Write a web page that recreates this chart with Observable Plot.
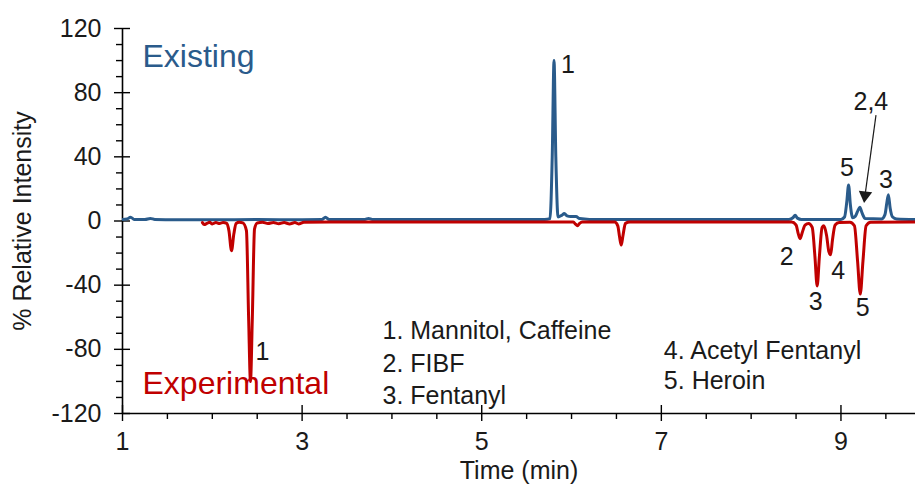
<!DOCTYPE html>
<html><head><meta charset="utf-8">
<script src="https://cdn.jsdelivr.net/npm/d3@7"></script>
<script src="https://cdn.jsdelivr.net/npm/@observablehq/plot@0.6"></script>
<style>body{margin:0;background:#fff} #chart svg{display:block}</style>
</head><body><div id="chart"></div>
<script>
// ---- data ----
const existingTime = [1.00,1.05,1.09,1.13,1.25,1.31,1.36,1.6,2.0,2.5,3.0,3.22,3.26,3.30,3.70,3.74,3.78,4.45,5.0,5.70,5.76,5.785,5.805,5.825,5.85,5.89,5.92,5.95,5.99,6.05,6.09,6.2,7.0,8.0,8.42,8.465,8.49,8.515,8.56,9.0,9.04,9.065,9.085,9.105,9.13,9.16,9.185,9.21,9.235,9.27,9.45,9.49,9.51,9.528,9.548,9.575,9.62,9.83];
const existingIntensity = [1.0,1.2,2.4,1.0,0.9,1.6,1.0,0.8,0.8,0.9,0.8,0.9,2.3,0.9,1.0,1.6,1.0,1.0,0.9,1.0,1.5,40,100,40,2.5,3.5,4.6,3.2,2.8,2.8,1.5,1.0,1.0,0.9,1.0,2.0,3.6,1.8,1.0,1.0,2.5,12,22.5,10,2.0,3,6,8.6,5,1.5,1.2,4,11,16.4,8,2.5,1.3,1.0];

const experimentalTime = [1.89,1.91,1.94,1.97,2.00,2.04,2.08,2.12,2.16,2.185,2.214,2.24,2.265,2.30,2.34,2.38,2.405,2.425,2.445,2.47,2.50,2.56,2.62,2.68,2.74,2.80,2.86,2.92,2.96,3.02,3.5,4.5,5.5,6.02,6.045,6.066,6.09,6.12,6.48,6.515,6.535,6.553,6.573,6.60,6.65,8.45,8.50,8.525,8.545,8.57,8.60,8.64,8.68,8.71,8.735,8.76,8.79,8.81,8.84,8.865,8.885,8.905,8.935,8.98,9.10,9.15,9.185,9.215,9.245,9.28,9.33,9.83];
const experimentalIntensity = [-1.0,-2.2,-1.5,-0.8,-1.8,-1.0,-1.6,-0.9,-1.5,-6,-18.5,-8,-1.5,-0.8,-1.2,-6,-62,-100,-62,-5,-1.2,-0.8,-1.6,-0.9,-1.7,-1.0,-1.8,-1.0,-1.8,-0.8,-0.6,-0.6,-0.6,-0.7,-2.0,-3.0,-1.5,-0.7,-0.7,-3,-10,-15,-9,-1.5,-0.7,-0.7,-2.5,-8,-11,-7,-2.5,-1.5,-4,-22,-40.5,-22,-4,-3,-9,-19,-21,-12,-2.5,-1,-0.8,-3,-25,-45.5,-25,-3,-0.8,-0.6];

const xDomain = [1, 9.83];
const yDomain = [-120, 120];
const xMajorTicks = [1, 3, 5, 7, 9];
const xMinorTicks = [1.5, 2, 2.5, 3.5, 4, 4.5, 5.5, 6, 6.5, 7.5, 8, 8.5, 9.5];
const yMajorTicks = [-120, -80, -40, 0, 40, 80, 120];
const yMinorTicks = [-110, -100, -90, -70, -60, -50, -30, -20, -10, 10, 20, 30, 50, 60, 70, 90, 100, 110];

const peakLabelText = ["1", "5", "3", "2,4", "1", "2", "3", "4", "5"];
const peakLabelTime = [5.959, 9.066, 9.500, 9.333, 2.559, 8.397, 8.720, 8.969, 9.241];
const peakLabelIntensity = [97.1, 33.2, 25.3, 74.2, -81.9, -22.6, -50.3, -31.3, -54.0];

const arrowStart = {time: 9.39, intensity: 66};
const arrowEnd = {time: 9.268, intensity: 16};

const compoundText = ["1. Mannitol, Caffeine", "2. FIBF", "3. Fentanyl", "4. Acetyl Fentanyl", "5. Heroin"];
const compoundTime = [3.895, 3.895, 3.895, 7.028, 7.028];
const compoundIntensity = [-68.4, -89.0, -109.0, -80.9, -99.6];

const seriesNames = ["Existing", "Experimental"];
const seriesLabelTime = [1.223, 1.223];
const seriesLabelIntensity = [102.7, -101.5];

// ---- styles ----
const BLUE = "#2a5b8b";
const RED = "#c00000";
const INK = "#1a1a1a";
const FONT = "'Liberation Sans', Arial, sans-serif";
const FS = 25;

const idx = (a) => a.map((_, i) => i);

const chart = Plot.plot({
  width: 915,
  height: 496,
  marginLeft: 122,
  marginRight: 0,
  marginTop: 28,
  marginBottom: 83,
  style: {fontFamily: FONT, background: "#fff", color: INK, overflow: "visible"},
  x: {domain: xDomain},
  y: {domain: yDomain},
  color: {domain: seriesNames, range: [BLUE, RED]},
  marks: [
    // axis lines
    Plot.ruleX([xDomain[0]], {stroke: "#000", strokeWidth: 1.6}),
    Plot.ruleY([yDomain[0]], {stroke: "#000", strokeWidth: 1.6}),
    // y ticks (major crossing, minor outside)
    Plot.axisY(yMajorTicks, {tickSize: 16, dx: 8, tickFormat: () => "", label: null, stroke: "#000", strokeWidth: 1.4}),
    Plot.axisY(yMinorTicks, {tickSize: 6, tickFormat: () => "", label: null, stroke: "#000", strokeWidth: 1.4}),
    Plot.axisY(yMajorTicks, {tickSize: 0, tickPadding: 21, label: null, fontSize: FS, fill: INK, tickFormat: d => String(d)}),
    // x ticks
    Plot.axisX(xMajorTicks, {tickSize: 16, dy: -8, tickFormat: () => "", label: null, stroke: "#000", strokeWidth: 1.4}),
    Plot.axisX(xMinorTicks, {tickSize: 6, tickFormat: () => "", label: null, stroke: "#000", strokeWidth: 1.4}),
    Plot.axisX(xMajorTicks, {tickSize: 0, tickPadding: 19, label: null, fontSize: FS, fill: INK, tickFormat: d => String(d)}),
    // axis titles
    Plot.text(["% Relative Intensity"], {frameAnchor: "left", dx: -100, rotate: -90, textAnchor: "middle", lineAnchor: "middle", fontSize: FS, fill: INK}),
    Plot.text(["Time (min)"], {frameAnchor: "bottom", dx: 0, dy: 57, textAnchor: "middle", lineAnchor: "middle", fontSize: FS, fill: INK}),
    // chromatograms
    Plot.line(idx(existingTime), {x: i => existingTime[i], y: i => existingIntensity[i], stroke: BLUE, strokeWidth: 3, curve: "monotone-x", clip: true}),
    Plot.line(idx(experimentalTime), {x: i => experimentalTime[i], y: i => experimentalIntensity[i], stroke: RED, strokeWidth: 3, curve: "monotone-x", clip: true}),
    // arrow for 2,4
    Plot.link([0], {x1: arrowStart.time, y1: arrowStart.intensity, x2: arrowEnd.time, y2: arrowEnd.intensity, stroke: INK, strokeWidth: 1.2}),
    Plot.dot([0], {x: arrowEnd.time, y: arrowEnd.intensity, symbol: "triangle", r: 5, rotate: 187, fill: INK, stroke: "none"}),
    // peak labels
    Plot.text(idx(peakLabelText), {x: i => peakLabelTime[i], y: i => peakLabelIntensity[i], text: i => peakLabelText[i], fontSize: FS, fill: INK}),
    // compound list
    Plot.text(idx(compoundText), {x: i => compoundTime[i], y: i => compoundIntensity[i], text: i => compoundText[i], textAnchor: "start", fontSize: FS, fill: INK}),
    // series labels
    Plot.text(idx(seriesNames), {x: i => seriesLabelTime[i], y: i => seriesLabelIntensity[i], text: i => seriesNames[i], fill: i => seriesNames[i], textAnchor: "start", fontSize: 32})
  ]
});
document.getElementById("chart").appendChild(chart);
</script>
</body></html>
